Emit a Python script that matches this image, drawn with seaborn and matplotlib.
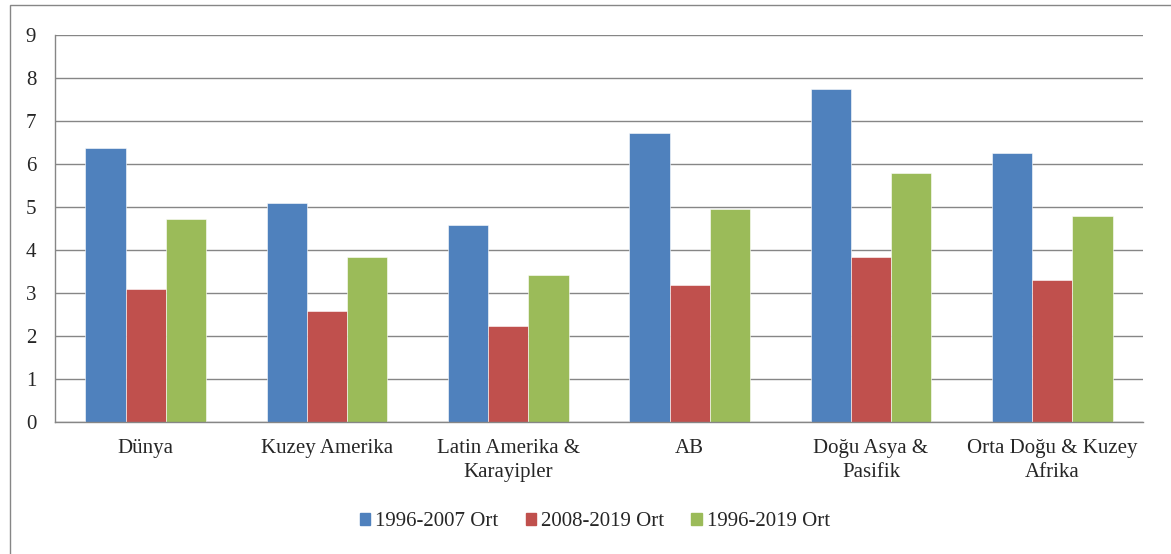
import pandas as pd
import matplotlib.pyplot as plt
import matplotlib.patches as mpatches
import seaborn as sns

regions = ["Dünya", "Kuzey Amerika", "Latin Amerika &\nKarayipler", "AB",
           "Doğu Asya &\nPasifik", "Orta Doğu & Kuzey\nAfrika"]
periods = ["1996-2007 Ort", "2008-2019 Ort", "1996-2019 Ort"]
ort_1996_2007 = [6.37, 5.09, 4.57, 6.72, 7.75, 6.26]
ort_2008_2019 = [3.09, 2.58, 2.23, 3.19, 3.84, 3.30]
ort_1996_2019 = [4.73, 3.84, 3.41, 4.96, 5.79, 4.78]
colors = ["#4F81BD", "#C0504D", "#9BBB59"]

rows = []
for period, vals in zip(periods, [ort_1996_2007, ort_2008_2019, ort_1996_2019]):
    for reg, v in zip(regions, vals):
        rows.append({"bolge": reg, "donem": period, "deger": v})
df = pd.DataFrame(rows)

sns.set_style("white")
plt.rcParams['font.family'] = ['Liberation Serif', 'DejaVu Serif']
plt.rcParams['font.size'] = 15

grid_col = "#868686"
fig = plt.figure(figsize=(11.71, 5.54), dpi=100)
ax = fig.add_axes([55 / 1171, 132 / 554, 1088 / 1171, 387 / 554])

sns.barplot(data=df, x="bolge", y="deger", hue="donem", palette=colors,
            width=0.665, saturation=1, edgecolor="white", linewidth=0.4, ax=ax)

ax.set_xlim(-0.5, 5.5)
ax.set_ylim(0, 9)
ax.set_yticks(range(0, 10))
ax.set_xlabel("")
ax.set_ylabel("")
ax.set_axisbelow(True)
ax.yaxis.grid(True, color=grid_col, linewidth=1)
ax.xaxis.grid(False)

for s in ["top", "right"]:
    ax.spines[s].set_visible(False)
for s in ["left", "bottom"]:
    ax.spines[s].set_color(grid_col)
    ax.spines[s].set_linewidth(1)

ax.tick_params(axis="y", length=4.5, width=1, color=grid_col, pad=9, labelsize=15)
ax.tick_params(axis="x", which="major", length=0, pad=12, labelsize=15)
ax.set_xticks([i - 0.5 for i in range(7)], minor=True)
ax.tick_params(axis="x", which="minor", length=4, width=1, color=grid_col)
for lbl in ax.get_xticklabels():
    lbl.set_linespacing(1.4)

ax.get_legend().remove()
handles = [mpatches.Patch(color=c, label=p) for c, p in zip(colors, periods)]
fig.legend(handles=handles, loc="center", bbox_to_anchor=(0.508, 0.058), ncol=3,
           frameon=False, fontsize=15, handlelength=0.5, handleheight=0.5,
           handletextpad=0.25, columnspacing=1.3)

frame = mpatches.Rectangle((10 / 1171, -0.1), 1.2, 1.1 - 5 / 554, transform=fig.transFigure,
                           fill=False, edgecolor=grid_col, linewidth=1)
fig.patches.append(frame)

fig.savefig("out.png", dpi=100)
